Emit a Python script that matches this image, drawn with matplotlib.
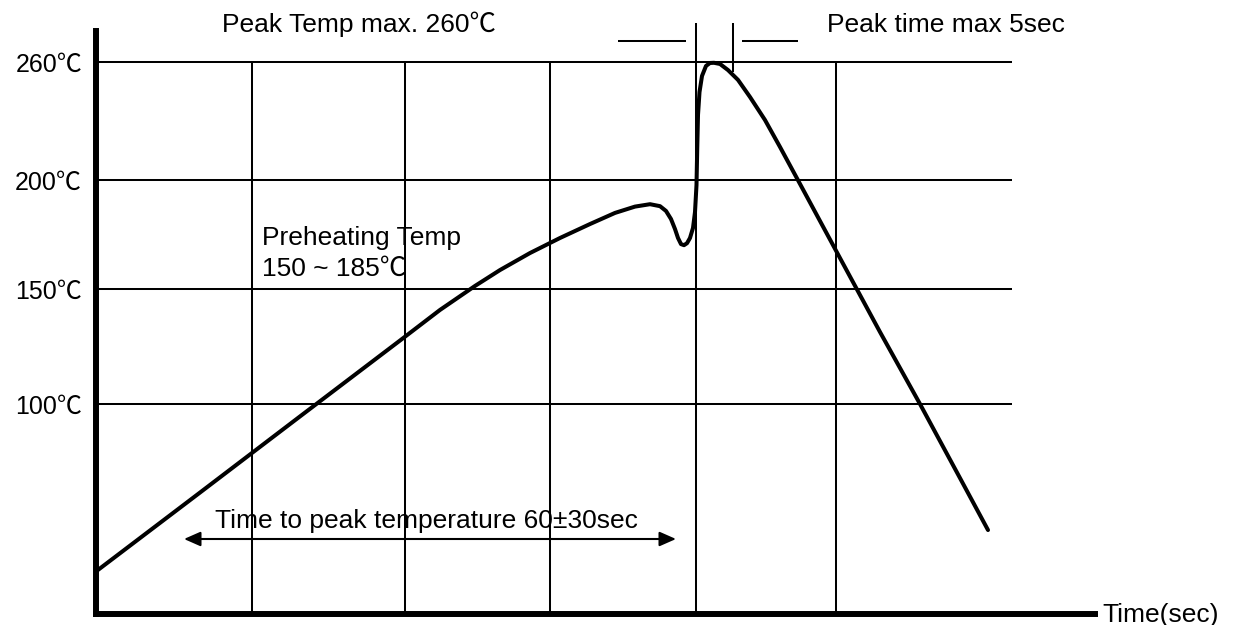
import numpy as np
import matplotlib
matplotlib.use("Agg")
import matplotlib.pyplot as plt

plt.rcParams['font.family'] = ['Liberation Sans', 'Noto Sans CJK TC', 'DejaVu Sans']

# reflow profile (time in chart units, temperature in degC)
time_s = [0, 104, 204, 304, 344, 379, 404, 434, 464, 494, 519, 539, 554, 564,
          570, 575, 579, 582, 585, 588, 591, 594, 597, 599, 600.5, 601.2, 602,
          603.5, 606, 610, 614, 618, 624, 632, 642, 654, 669, 684, 704, 744,
          784, 824, 864, 892]
temp_c = [27.2, 61.5, 94.6, 127.6, 140.9, 151.4, 158.7, 166.5, 173.4, 179.8,
          184.9, 187.8, 188.9, 188.0, 185.8, 182.1, 177.5, 173.4, 170.6, 170.1,
          171.0, 173.4, 178.0, 185.3, 197.7, 215.3, 233.1, 244.7, 252.9, 258.0,
          259.5, 259.6, 259.0, 255.9, 250.9, 242.2, 230.5, 216.8, 198.2, 164.2,
          131.3, 100.0, 67.8, 45.2]

temp_ticks = [100, 150, 200, 260]
temp_labels = ['100℃', '150℃', '200℃', '260℃']
time_grid = [156, 309, 454, 600, 740]
peak_window = [600, 637]
ramp_span = [88, 580]

# the original y axis is not linear: height (px above the x axis) of each tick
knot_temp = [-100, 100, 150, 200, 260, 400]
knot_h = [209.5 - 460, 209.5, 324.5, 433.5, 551.5, 551.5 + 275.4]


def fwd(t):
    return np.interp(t, knot_temp, knot_h)


def inv(h):
    return np.interp(h, knot_h, knot_temp)


W, H = 1236, 625
fig = plt.figure(figsize=(W / 100, H / 100), dpi=100)
ax = fig.add_axes([96 / W, 11.5 / H, 999 / W, 582.5 / H])
ax.set_yscale('function', functions=(fwd, inv))
ax.set_xlim(0, 999)
ax.set_ylim(inv(0), inv(582.5))

for s in ['top', 'right']:
    ax.spines[s].set_visible(False)
for s in ['left', 'bottom']:
    ax.spines[s].set_linewidth(4.3)
    ax.spines[s].set_capstyle('projecting')

# grid drawn by hand, it does not span the whole axes
ax.hlines(temp_ticks, 0, 916, color='black', lw=1.45)
ax.vlines(time_grid, inv(0), 260, color='black', lw=1.45)

ax.plot(time_s, temp_c, color='black', lw=2.9, solid_joinstyle='round',
        solid_capstyle='round')

# peak time markers
top = inv(590.5)
ax.vlines(peak_window[0], 260, top, color='black', lw=1.45, clip_on=False)
ax.vlines(peak_window[1], inv(541.5), top, color='black', lw=1.45, clip_on=False)
dash_y = inv(572.5)
ax.hlines(dash_y, peak_window[0] - 78, peak_window[0] - 10, color='black',
          lw=1.45, clip_on=False)
ax.hlines(dash_y, peak_window[1] + 9, peak_window[1] + 65, color='black',
          lw=1.45, clip_on=False)

# time to peak arrow
arr_y = inv(74.5)
ax.annotate('', xy=(ramp_span[0], arr_y), xytext=(ramp_span[1], arr_y),
            arrowprops=dict(arrowstyle='<|-|>,head_length=0.5,head_width=0.22',
                            mutation_scale=20, color='black', lw=1.5,
                            shrinkA=0, shrinkB=0))

ax.set_xticks([])
ax.set_yticks(temp_ticks, temp_labels)
ax.tick_params(axis='y', length=0, pad=10, labelsize=18)


def fpx(x, y):
    return x / W, 1 - y / H


fs = 19
fig.text(*fpx(222, 32), 'Peak Temp max. 260℃', fontsize=fs, va='baseline')
fig.text(*fpx(827, 32), 'Peak time max 5sec', fontsize=fs, va='baseline')
fig.text(*fpx(262, 245), 'Preheating Temp', fontsize=fs, va='baseline')
fig.text(*fpx(262, 276), '150 ~ 185℃', fontsize=fs, va='baseline')
fig.text(*fpx(426, 528), 'Time to peak temperature 60±30sec', fontsize=fs,
         va='baseline', ha='center')
fig.text(*fpx(1102, 615), 'Time(sec)', fontsize=fs, va='center')

fig.savefig('out.png', dpi=100)
